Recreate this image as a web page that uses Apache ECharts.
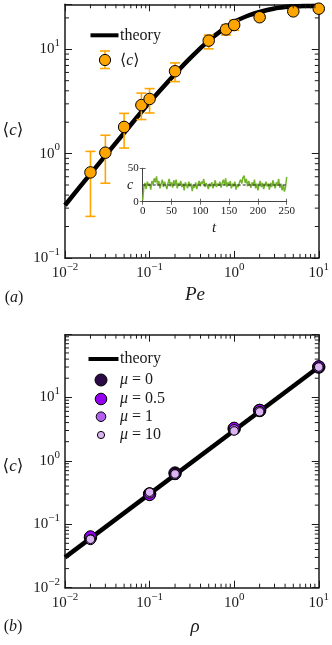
<!DOCTYPE html>
<html><head><meta charset="utf-8">
<script src="https://cdn.jsdelivr.net/npm/echarts@6/dist/echarts.min.js"></script>
<style>html,body{margin:0;padding:0;background:#fff}#c{width:332px;height:645px}</style>
</head><body><div id="c"></div>
<script>
// ---------- Panel (a) data ----------
const peValues = [0.02, 0.03, 0.05, 0.08, 0.1, 0.2, 0.5, 0.8, 1, 2, 5, 10];
const cMean    = [0.66, 1.02, 1.8, 2.92, 3.34, 6.16, 12.1, 15.5, 17.1, 20.3, 23.1, 24.5];
const cLow     = [0.25, 0.52, 1.13, 2.12, 2.45, 4.9, 10.1, 13.7, 15.2, 19.0, 22.4, 23.8];
const cHigh    = [1.05, 1.5, 2.43, 3.8, 4.2, 7.4, 13.7, 17.2, 19.0, 21.6, 23.8, 25.2];
const peTheory = [0.01, 0.02, 0.05, 0.1, 0.2, 0.3, 0.5, 0.7, 1, 1.5, 2, 3, 4, 5, 7, 10];
const cTheory  = [0.32, 0.64, 1.58, 3.1, 5.8, 8.2, 12.1, 15.0, 18.3, 21.2, 22.8, 24.6, 25.4, 25.8, 26.0, 26.1];

// inset time series
const tValues = [0,2,4,6,8,10,12,14,16,18,20,22,24,26,28,30,32,34,36,38,40,42,44,46,48,50,52,54,56,58,60,62,64,66,68,70,72,74,76,78,80,82,84,86,88,90,92,94,96,98,100,102,104,106,108,110,112,114,116,118,120,122,124,126,128,130,132,134,136,138,140,142,144,146,148,150,152,154,156,158,160,162,164,166,168,170,172,174,176,178,180,182,184,186,188,190,192,194,196,198,200,202,204,206,208,210,212,214,216,218,220,222,224,226,228,230,232,234,236,238,240,242,244,246,248,250];
const cSeries = [2,22,28,19,30,24,27,18,31,26,35,29,38,24,31,20,27,33,22,30,25,19,28,34,23,29,21,32,26,33,20,28,24,31,22,27,17,29,25,20,30,23,27,16,25,21,29,19,26,31,23,30,27,34,22,28,24,19,27,23,29,20,26,32,22,27,24,30,21,28,33,25,35,22,29,24,31,20,27,23,30,18,26,22,29,33,27,36,39,28,34,23,31,26,21,29,24,33,20,27,17,26,31,22,28,19,25,30,23,27,18,28,22,32,26,20,29,24,34,21,27,17,25,15,22,37];
const cAverage = 25;
const insetXTicks = [0, 50, 100, 150, 200, 250];

// ---------- Panel (b) data ----------
const rhoValues = [0.02, 0.1, 0.2, 1, 2, 10];
const cMu0   = [0.062, 0.30, 0.64, 3.2, 6.2, 30];
const cMu05  = [0.064, 0.29, 0.62, 3.3, 6.3, 30.5];
const cMu1   = [0.057, 0.31, 0.61, 3.1, 6.0, 29.5];
const cMu10  = [0.058, 0.32, 0.62, 2.95, 5.9, 30];
const rhoTheory = [0.01, 10];
const cTheoryB  = [0.03, 30];

const FONT = "'Liberation Serif','DejaVu Serif',serif";
const INK = '#1a1a1a';
const ORANGE = '#FFA500';
const muColors = ['#2c0a45', '#9400ef', '#b45ef0', '#dcb3f3'];
const muSizes = [12.5, 11.5, 10, 8.5];

function minorList(kFrom, kTo, maxV) {
  const out = [];
  for (let k = kFrom; k <= kTo; k++) for (let m = 2; m <= 9; m++) {
    const v = Number((m * Math.pow(10, k)).toPrecision(3));
    if (v < maxV) out.push(v);
  }
  return out;
}
const minorXA = minorList(-2, 0, 10);
const minorYA = minorList(-1, 1, 27);
const minorXB = minorList(-2, 0, 10);
const minorYB = minorList(-2, 1, 97);

function logLabel(v) {
  const l = Math.log10(v); const e = Math.round(l);
  if (Math.abs(l - e) > 1e-6) return '';
  return '{b|10}{s|' + (e < 0 ? '\u2212' + (-e) : e) + '}';
}
const labelRich = {
  b: { fontFamily: FONT, fontSize: 15, color: INK },
  s: { fontFamily: FONT, fontSize: 11, color: INK, padding: [0, 0, 12, 0] }
};

function mkLogX(grid, min, max, pos, showLabel) {
  return { type: 'log', logBase: 10, gridIndex: grid, min: min, max: max, position: pos,
    axisLine: { show: true, lineStyle: { color: INK, width: 1.5 } },
    axisTick: { show: true, inside: true, length: 7, lineStyle: { color: INK, width: 1 } },
    splitLine: { show: false }, minorTick: { show: false },
    axisLabel: { show: showLabel, margin: 4, formatter: logLabel, rich: labelRich } };
}
function mkLogY(grid, min, max, pos, showLabel) {
  return { type: 'log', logBase: 10, gridIndex: grid, min: min, max: max, position: pos,
    axisLine: { show: true, lineStyle: { color: INK, width: 1.5 } },
    axisTick: { show: true, inside: true, length: 7, lineStyle: { color: INK, width: 1 } },
    splitLine: { show: false }, minorTick: { show: false },
    axisLabel: { show: showLabel, margin: 5, formatter: logLabel, rich: labelRich } };
}
function mkLin(grid, min, max, interval, pos, showLabel) {
  return { type: 'value', gridIndex: grid, min: min, max: max, interval: interval, position: pos, z: 4,
    axisLine: { show: true, lineStyle: { color: '#444', width: 1 } },
    axisTick: { show: true, inside: true, length: 3, lineStyle: { color: '#444', width: 0.8 } },
    splitLine: { show: false },
    axisLabel: { show: showLabel, margin: 4, fontFamily: FONT, fontSize: 11, color: INK } };
}

// minor log ticks, placed through the axis scale (api.coord)
function minorTickSeries(xi, yi, values, refValue, isX) {
  return { type: 'custom', xAxisIndex: xi, yAxisIndex: yi, silent: true, clip: false, z: 5,
    data: values.map(v => isX ? [v, refValue] : [refValue, v]),
    encode: { x: 0, y: 1 },
    renderItem: function (params, api) {
      const cs = params.coordSys; const len = 4;
      const p = api.coord([api.value(0), api.value(1)]);
      const st = { stroke: INK, lineWidth: 1 };
      if (isX) {
        const x = p[0];
        return { type: 'group', children: [
          { type: 'line', shape: { x1: x, y1: cs.y + cs.height, x2: x, y2: cs.y + cs.height - len }, style: st },
          { type: 'line', shape: { x1: x, y1: cs.y, x2: x, y2: cs.y + len }, style: st }] };
      }
      const y = p[1];
      return { type: 'group', children: [
        { type: 'line', shape: { x1: cs.x, y1: y, x2: cs.x + len, y2: y }, style: st },
        { type: 'line', shape: { x1: cs.x + cs.width, y1: y, x2: cs.x + cs.width - len, y2: y }, style: st }] };
    } };
}

const option = {
  backgroundColor: '#fff',
  animation: false,
  grid: [
    { left: 65, top: 4.3, width: 254.5, height: 253.6 },
    { left: 65, top: 334.7, width: 254.5, height: 253 },
    { left: 142.7, top: 168.3, width: 144, height: 33.4, show: true, backgroundColor: '#fff', borderWidth: 0, z: 3 }
  ],
  xAxis: [
    mkLogX(0, 0.01, 10, 'bottom', true),
    mkLogX(0, 0.01, 10, 'top', false),
    mkLogX(1, 0.01, 10, 'bottom', true),
    mkLogX(1, 0.01, 10, 'top', false),
    mkLin(2, 0, 250, 50, 'bottom', true),
    mkLin(2, 0, 250, 50, 'top', false)
  ],
  yAxis: [
    mkLogY(0, 0.1, 27, 'left', true),
    mkLogY(0, 0.1, 27, 'right', false),
    mkLogY(1, 0.01, 97, 'left', true),
    mkLogY(1, 0.01, 97, 'right', false),
    mkLin(2, 0, 50, 50, 'left', true),
    mkLin(2, 0, 50, 50, 'right', false)
  ],
  series: [
    { type: 'line', xAxisIndex: 0, yAxisIndex: 0, data: peTheory.map((x, i) => [x, cTheory[i]]),
      showSymbol: false, symbol: 'none', smooth: 0.3, clip: false, z: 2,
      lineStyle: { color: '#000', width: 4.5 } },
    { type: 'custom', xAxisIndex: 0, yAxisIndex: 0, clip: false, z: 3,
      data: peValues.map((x, i) => [x, cLow[i], cHigh[i]]), encode: { x: 0, y: [1, 2] },
      renderItem: function (params, api) {
        const x = api.value(0);
        const lo = api.coord([x, api.value(1)]);
        const hi = api.coord([x, api.value(2)]);
        const w = 5; const st = { stroke: ORANGE, lineWidth: 1.6 };
        return { type: 'group', children: [
          { type: 'line', shape: { x1: lo[0], y1: lo[1], x2: hi[0], y2: hi[1] }, style: st },
          { type: 'line', shape: { x1: lo[0] - w, y1: lo[1], x2: lo[0] + w, y2: lo[1] }, style: st },
          { type: 'line', shape: { x1: hi[0] - w, y1: hi[1], x2: hi[0] + w, y2: hi[1] }, style: st }] };
      } },
    { type: 'scatter', xAxisIndex: 0, yAxisIndex: 0, clip: false, z: 4, symbolSize: 11.5,
      data: peValues.map((x, i) => [x, cMean[i]]),
      itemStyle: { color: ORANGE, borderColor: '#000', borderWidth: 1, opacity: 1 } },
    minorTickSeries(0, 0, minorXA, 1, true),
    minorTickSeries(0, 0, minorYA, 1, false),
    { type: 'line', xAxisIndex: 4, yAxisIndex: 4, data: tValues.map((t, i) => [t, cSeries[i]]),
      symbol: 'none', z: 5, lineStyle: { color: '#74b42c', width: 1.5 } },
    { type: 'line', xAxisIndex: 4, yAxisIndex: 4, data: [[insetXTicks[0], cAverage], [insetXTicks[insetXTicks.length - 1], cAverage]],
      symbol: 'none', z: 6, lineStyle: { color: '#222', width: 1.1, type: [3, 2] } },
    { type: 'line', xAxisIndex: 2, yAxisIndex: 2, data: rhoTheory.map((x, i) => [x, cTheoryB[i]]),
      symbol: 'none', clip: false, z: 2, lineStyle: { color: '#000', width: 4.5 } },
    ...[cMu0, cMu05, cMu1, cMu10].map((arr, k) => ({
      type: 'scatter', xAxisIndex: 2, yAxisIndex: 2, clip: false, z: 3 + k, symbolSize: muSizes[k],
      data: rhoValues.map((x, i) => [x, arr[i]]),
      itemStyle: { color: muColors[k], borderColor: '#000', borderWidth: 1, opacity: 1 } })),
    minorTickSeries(2, 2, minorXB, 1, true),
    minorTickSeries(2, 2, minorYB, 1, false)
  ],
  graphic: [
    // panel (a) legend
    { type: 'line', shape: { x1: 90.5, y1: 35.3, x2: 118.5, y2: 35.3 }, style: { stroke: '#000', lineWidth: 4 }, z: 10 },
    { type: 'text', x: 120, y: 35.3, style: { text: 'theory', font: '16px ' + FONT, fill: INK, verticalAlign: 'middle' }, z: 10 },
    { type: 'line', shape: { x1: 105, y1: 51, x2: 105, y2: 68.5 }, style: { stroke: ORANGE, lineWidth: 1.6 }, z: 10 },
    { type: 'line', shape: { x1: 100, y1: 51, x2: 110, y2: 51 }, style: { stroke: ORANGE, lineWidth: 1.6 }, z: 10 },
    { type: 'line', shape: { x1: 100, y1: 68.5, x2: 110, y2: 68.5 }, style: { stroke: ORANGE, lineWidth: 1.6 }, z: 10 },
    { type: 'circle', shape: { cx: 105, cy: 60, r: 5.6 }, style: { fill: ORANGE, stroke: '#000', lineWidth: 1 }, z: 11 },
    { type: 'text', x: 120, y: 61, style: { text: '\u27E8{i|c}\u27E9', font: '16px ' + FONT, fill: INK, verticalAlign: 'middle',
      rich: { i: { fontFamily: FONT, fontStyle: 'italic', fontSize: 16 } } }, z: 10 },
    // axis titles panel (a)
    { type: 'text', x: 13, y: 131, style: { text: '\u27E8{i|c}\u27E9', font: '17px ' + FONT, fill: INK, align: 'center', verticalAlign: 'middle',
      rich: { i: { fontFamily: FONT, fontStyle: 'italic', fontSize: 17 } } } },
    { type: 'text', x: 195, y: 295, style: { text: 'Pe', font: 'italic 19px ' + FONT, fill: INK, align: 'center', verticalAlign: 'middle' } },
    { type: 'text', x: 14, y: 298, style: { text: '({i|a})', font: '16px ' + FONT, fill: INK, align: 'center', verticalAlign: 'middle',
      rich: { i: { fontFamily: FONT, fontStyle: 'italic', fontSize: 16 } } } },
    // inset titles
    { type: 'text', x: 130, y: 185, style: { text: 'c', font: 'italic 14px ' + FONT, fill: INK, align: 'center', verticalAlign: 'middle' }, z: 10 },
    { type: 'text', x: 214, y: 228, style: { text: 't', font: 'italic 15px ' + FONT, fill: INK, align: 'center', verticalAlign: 'middle' }, z: 10 },
    // panel (b) legend
    { type: 'line', shape: { x1: 88.5, y1: 359, x2: 118.5, y2: 359 }, style: { stroke: '#000', lineWidth: 4 }, z: 10 },
    { type: 'text', x: 120, y: 359, style: { text: 'theory', font: '16px ' + FONT, fill: INK, verticalAlign: 'middle' }, z: 10 },
    ...['0', '0.5', '1', '10'].map((lab, k) => ({ type: 'group', z: 10, children: [
      { type: 'circle', shape: { cx: 101, cy: [380, 399, 416.7, 435][k], r: [6, 5.8, 4.8, 3.6][k] },
        style: { fill: muColors[k], stroke: '#000', lineWidth: 1 }, z: 10 },
      { type: 'text', x: 120, y: [380, 399, 416.7, 435][k], style: { text: '{i|\u03BC} = ' + lab, font: '16px ' + FONT, fill: INK, verticalAlign: 'middle',
        rich: { i: { fontFamily: FONT, fontStyle: 'italic', fontSize: 16 } } }, z: 10 }] })),
    // axis titles panel (b)
    { type: 'text', x: 13, y: 467, style: { text: '\u27E8{i|c}\u27E9', font: '17px ' + FONT, fill: INK, align: 'center', verticalAlign: 'middle',
      rich: { i: { fontFamily: FONT, fontStyle: 'italic', fontSize: 17 } } } },
    { type: 'text', x: 195, y: 627, style: { text: '\u03C1', font: 'italic 19px ' + FONT, fill: INK, align: 'center', verticalAlign: 'middle' } },
    { type: 'text', x: 13, y: 627, style: { text: '({i|b})', font: '16px ' + FONT, fill: INK, align: 'center', verticalAlign: 'middle',
      rich: { i: { fontFamily: FONT, fontStyle: 'italic', fontSize: 16 } } } }
  ]
};

const chart = echarts.init(document.getElementById('c'), null, { renderer: 'canvas' });
chart.setOption(option);
</script>
</body></html>
